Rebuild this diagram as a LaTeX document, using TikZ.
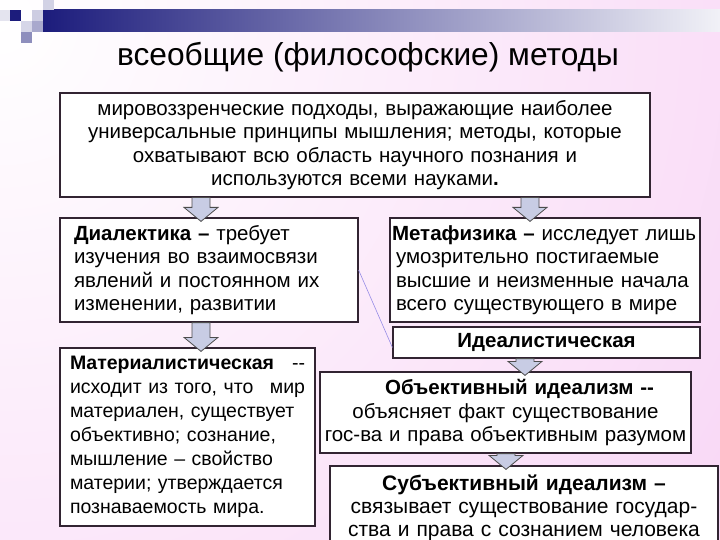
\documentclass[tikz,border=0pt]{standalone}
\usepackage{fontspec}
\setmainfont{Liberation Sans}
\usetikzlibrary{calc}

\definecolor{barnavy}{RGB}{28,28,124}
\definecolor{bgpink}{RGB}{244,190,240}
\definecolor{boxline}{RGB}{50,36,50}
\definecolor{arrfill}{RGB}{200,204,228}
\definecolor{linkline}{RGB}{150,140,230}

% block arrow from one point down to another
\newcommand{\blockarrow}[2]{%
  \draw[blockarr] let \p1=(#1), \p2=(#2) in
    (\x1-9pt,\y1) -- (\x1+9pt,\y1) -- (\x1+9pt,\y2+10pt) -- (\x1+17pt,\y2+10pt)
    -- (\x1,\y2-4pt) -- (\x1-17pt,\y2+10pt) -- (\x1-9pt,\y2+10pt) -- cycle;}

\begin{document}
\begin{tikzpicture}[x=1pt,y=-1pt,
  every node/.style={font=\fontsize{20.5}{23.5}\selectfont},
  box/.style={draw=boxline,line width=1.2pt,fill=white,inner sep=0pt},
  blockarr/.style={draw=black!70,line width=0.8pt,fill=arrfill}]
\useasboundingbox (0,0) rectangle (720,540);
\begin{scope}
  \clip (0,0) rectangle (720,540);
  \shade[inner color=white,outer color=bgpink] (0,20) circle (1450);
\end{scope}

% top bar and squares
\shade[left color=barnavy,right color=white!94!barnavy] (43,10) rectangle (720,32);
\fill[white!88!barnavy] (0,10) rectangle (10,21);
\fill[barnavy] (10,10) rectangle (21,21);
\fill[white!78!barnavy] (32,10) rectangle (43,21);
\fill[white!80!barnavy] (43,0) rectangle (54,10);
\fill[white!82!barnavy] (21,21) rectangle (32,32);
\fill[white!62!barnavy] (32,21) rectangle (43,32);
\fill[white!50!barnavy] (21,32) rectangle (32,43);

\node (title) at (368,57) {\fontsize{31.7}{36}\selectfont всеобщие (философские) методы};

\node[box,minimum width=590,minimum height=104,text width=580pt,align=center] (univ) at (355,145)
  {мировоззренческие подходы, выражающие наиболее\\
   универсальные принципы мышления; методы, которые\\
   охватывают всю область научного познания и\\
   используются всеми науками\textbf{.}};

\node[box,minimum width=298,minimum height=104,text width=270pt,align=left] (dial) at (209,270)
  {\textbf{Диалектика –} требует\\
   изучения во взаимосвязи\\
   явлений и постоянном их\\
   изменении, развитии};

\node[box,minimum width=310,minimum height=104,text width=306pt,align=left] (meta) at (545,270)
  {\textbf{Метафизика –} исследует лишь\\
   \hspace*{4pt}умозрительно постигаемые\\
   \hspace*{4pt}высшие и неизменные начала\\
   \hspace*{4pt}всего существующего в мире};

\node[box,minimum width=307,minimum height=31,text width=300pt,align=center] (ideal) at (546.5,342.5)
  {\textbf{Идеалистическая}};

\node[box,minimum width=255,minimum height=178,text width=235pt,align=left,
  font=\fontsize{19.5}{24}\selectfont] (mater) at (187.5,437)
  {\textbf{Материалистическая}\hfill-{}-\\
   исходит из того, что\hfill мир\\
   материален, существует\\
   объективно; сознание,\\
   мышление – свойство\\
   материи; утверждается\\
   познаваемость мира.};

\node[box,minimum width=371,minimum height=81,text width=365pt,align=center] (objid) at (505.5,412.5)
  {\hspace*{28pt}\textbf{Объективный идеализм -{}-}\\
   объясняет факт существование\\
   гос-ва и права объективным разумом};

\node[box,minimum width=388,minimum height=84,text width=384pt,align=center,
  font=\fontsize{21}{23}\selectfont] (subid) at (524,508)
  {\textbf{Субъективный идеализм –}\\
   связывает существование государ-\\
   ства и права с сознанием человека};

\draw[linkline,line width=0.6pt] (dial.east) -- ([yshift=-5pt]ideal.west);

\coordinate (lx) at (201,0);
\coordinate (rx) at (530,0);
\coordinate (ix) at (525,0);
\coordinate (ox) at (506,0);
\blockarrow{univ.south -| lx}{dial.north -| lx}
\blockarrow{univ.south -| rx}{meta.north -| rx}
\blockarrow{dial.south -| lx}{mater.north -| lx}
\blockarrow{ideal.south -| ix}{objid.north -| ix}
\blockarrow{objid.south -| ox}{subid.north -| ox}
\end{tikzpicture}
\end{document}
